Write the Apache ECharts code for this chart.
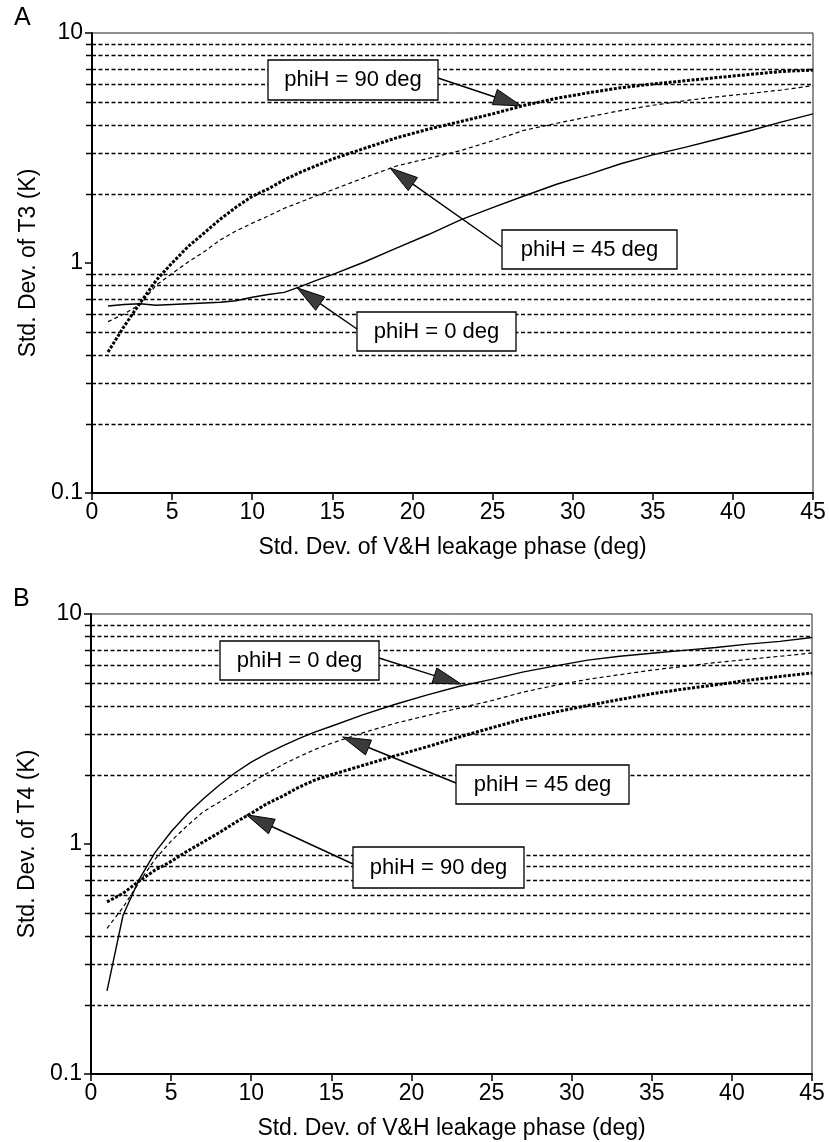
<!DOCTYPE html>
<html>
<head>
<meta charset="utf-8">
<script src="https://cdn.jsdelivr.net/npm/echarts@6.0.0/dist/echarts.min.js"></script>
<style>
  html, body { margin: 0; padding: 0; background: #fff; }
  #chart { width: 829px; height: 1142px; }
</style>
</head>
<body>
<div id="chart"></div>
<script>
// x positions of the samples (deg)
var xVals = [1, 2, 3, 4, 5, 6, 7, 8, 9, 10, 11, 12, 13, 14, 15,
  17, 19, 21, 23, 25, 27, 29, 31, 33, 35, 37, 39, 41, 43, 45];

// panel A: std dev of T3 (K)
var a0 = [0.65, 0.66, 0.665, 0.655, 0.66, 0.665, 0.67, 0.675, 0.685, 0.71, 0.73, 0.745, 0.79, 0.84, 0.89,
  1.01, 1.16, 1.33, 1.54, 1.74, 1.96, 2.2, 2.43, 2.7, 2.95, 3.18, 3.45, 3.75, 4.1, 4.45];
var a45 = [0.556, 0.6, 0.66, 0.8, 0.9, 1.01, 1.12, 1.26, 1.38, 1.49, 1.6, 1.73, 1.84, 1.96, 2.08,
  2.35, 2.64, 2.85, 3.08, 3.4, 3.78, 4.05, 4.32, 4.6, 4.85, 5.08, 5.28, 5.45, 5.65, 5.9];
var a90 = [0.41, 0.53, 0.67, 0.84, 1.0, 1.18, 1.35, 1.55, 1.75, 1.95, 2.1, 2.3, 2.48, 2.65, 2.83,
  3.15, 3.5, 3.82, 4.12, 4.45, 4.85, 5.2, 5.5, 5.78, 6.0, 6.2, 6.4, 6.6, 6.8, 6.9];

// panel B: std dev of T4 (K)
var b0 = [0.23, 0.49, 0.7, 0.92, 1.13, 1.35, 1.57, 1.8, 2.04, 2.27, 2.48, 2.68, 2.88, 3.07, 3.25,
  3.65, 4.05, 4.45, 4.85, 5.2, 5.6, 5.95, 6.3, 6.55, 6.75, 6.95, 7.15, 7.4, 7.6, 7.9];
var b45 = [0.43, 0.53, 0.68, 0.86, 1.03, 1.2, 1.38, 1.52, 1.68, 1.85, 2.03, 2.22, 2.4, 2.58, 2.74,
  3.05, 3.35, 3.62, 3.9, 4.2, 4.58, 4.9, 5.2, 5.45, 5.7, 5.92, 6.15, 6.35, 6.55, 6.77];
var b90 = [0.56, 0.61, 0.69, 0.77, 0.84, 0.93, 1.02, 1.12, 1.24, 1.36, 1.5, 1.62, 1.77, 1.9, 2.0,
  2.2, 2.42, 2.65, 2.92, 3.2, 3.5, 3.75, 4.0, 4.25, 4.5, 4.72, 4.92, 5.15, 5.35, 5.54];

// dashed horizontal grid values
var gridVals = [0.2, 0.3, 0.4, 0.5, 0.6, 0.7, 0.8, 0.9, 2, 3, 4, 5, 6, 7, 8, 9];

var yTitles = ["Std. Dev. of T3 (K)", "Std. Dev. of T4 (K)"];
var xTitle = "Std. Dev. of V&H leakage phase (deg)";
var panelLetters = ["A", "B"];

// annotation texts and the curve point each arrow points at
var noteTexts = ["phiH = 90 deg", "phiH = 45 deg", "phiH = 0 deg",
  "phiH = 0 deg", "phiH = 45 deg", "phiH = 90 deg"];
var notePanel = [0, 0, 0, 1, 1, 1];
var noteX = [26.8, 18.6, 12.8, 23.1, 15.7, 9.7];
var noteY = [4.82, 2.59, 0.78, 4.96, 2.92, 1.34];

// box layout (pixels)
var boxes = [
  { x: 268, y: 60, w: 170, h: 40, fx: 438, fy: 78 },
  { x: 502, y: 230, w: 175, h: 39, fx: 502, fy: 247 },
  { x: 357, y: 312, w: 159, h: 39, fx: 357, fy: 329 },
  { x: 220, y: 641, w: 159, h: 39, fx: 379, fy: 658 },
  { x: 456, y: 765, w: 173, h: 39, fx: 456, fy: 783 },
  { x: 353, y: 847, w: 171, h: 41, fx: 353, fy: 864 }
];

var font = "'Liberation Sans', Arial, Helvetica, sans-serif";

function pairs(ys) {
  return xVals.map(function(x, i) { return [x, ys[i]]; });
}

function makeX(i) {
  return {
    type: "value", gridIndex: i, min: 0, max: 45, interval: 5,
    name: xTitle, nameLocation: "middle", nameGap: 43,
    nameTextStyle: { fontSize: 23, color: "#000", fontFamily: font },
    axisLine: { show: true, onZero: false, lineStyle: { color: "#000", width: 2 } },
    axisTick: { show: true, length: 7, lineStyle: { color: "#000", width: 1.5 } },
    axisLabel: { fontSize: 23, color: "#000", margin: 8, fontFamily: font },
    splitLine: { show: false }
  };
}

function makeY(i) {
  return {
    type: "log", logBase: 10, gridIndex: i, min: 0.1, max: 10, splitNumber: 2,
    name: yTitles[i], nameLocation: "middle", nameGap: 52, nameRotate: 90,
    nameTextStyle: { fontSize: 23, color: "#000", fontFamily: font },
    axisLine: { show: true, onZero: false, lineStyle: { color: "#000", width: 2 } },
    axisTick: { show: true, length: 7, lineStyle: { color: "#000", width: 1.5 } },
    axisLabel: {
      fontSize: 23, color: "#000", margin: 9, fontFamily: font,
      formatter: function(v) { return String(+v.toPrecision(3)); }
    },
    splitLine: { show: false },
    minorTick: { show: false },
    minorSplitLine: { show: false }
  };
}

function gridSeries(i) {
  return {
    type: "custom", xAxisIndex: i, yAxisIndex: i, silent: true, z: 1,
    data: gridVals.map(function(v) { return [0, v]; }),
    renderItem: function(params, api) {
      var p0 = api.coord([0, api.value(1)]);
      var p1 = api.coord([45, api.value(1)]);
      var y = Math.round(p0[1]) + 0.5;
      return {
        type: "group",
        children: [
          { type: "line", shape: { x1: p0[0] - 6, y1: y, x2: p0[0], y2: y },
            style: { stroke: "#000", lineWidth: 1.5 } },
          { type: "line", shape: { x1: p0[0], y1: y, x2: p1[0], y2: y },
            style: { stroke: "#000", lineWidth: 1.5, lineDash: [4, 2.5] } }
        ]
      };
    }
  };
}

function curve(i, ys, kind) {
  var ls = { color: "#000", width: 1.4, type: "solid" };
  if (kind === "dash") ls = { color: "#000", width: 1.2, type: [4, 3] };
  if (kind === "dot") ls = { color: "#000", width: 3, type: [3, 1.6] };
  return {
    type: "line", xAxisIndex: i, yAxisIndex: i, data: pairs(ys),
    symbol: "none", showSymbol: false, lineStyle: ls, z: 3, silent: true
  };
}

var option = {
  animation: false,
  backgroundColor: "#fff",
  grid: [
    { left: 92, top: 33, width: 721, height: 460, show: true, borderColor: "#222", borderWidth: 1, backgroundColor: "transparent" },
    { left: 91, top: 614, width: 721, height: 460, show: true, borderColor: "#222", borderWidth: 1, backgroundColor: "transparent" }
  ],
  xAxis: [makeX(0), makeX(1)],
  yAxis: [makeY(0), makeY(1)],
  series: [
    gridSeries(0), gridSeries(1),
    curve(0, a0, "solid"), curve(0, a45, "dash"), curve(0, a90, "dot"),
    curve(1, b0, "solid"), curve(1, b45, "dash"), curve(1, b90, "dot")
  ]
};

var chart = echarts.init(document.getElementById("chart"));
chart.setOption(option);

// annotations: boxes with arrows pointing at curve points
var graphics = [
  { type: "text", left: 14, top: 6, style: { text: panelLetters[0], fontSize: 25, fontFamily: font, fill: "#000" } },
  { type: "text", left: 13, top: 587, style: { text: panelLetters[1], fontSize: 25, fontFamily: font, fill: "#000" } }
];

for (var k = 0; k < boxes.length; k++) {
  var b = boxes[k];
  var p = notePanel[k];
  var tip = chart.convertToPixel({ xAxisIndex: p, yAxisIndex: p }, [noteX[k], noteY[k]]);
  var dx = tip[0] - b.fx, dy = tip[1] - b.fy;
  var len = Math.sqrt(dx * dx + dy * dy);
  var ux = dx / len, uy = dy / len;
  var L = 28, W = 8;
  var bx = tip[0] - ux * L, by = tip[1] - uy * L;
  graphics.push({
    type: "line", z: 10,
    shape: { x1: b.fx, y1: b.fy, x2: bx, y2: by },
    style: { stroke: "#000", lineWidth: 1.4 }
  });
  graphics.push({
    type: "polygon", z: 11,
    shape: { points: [[tip[0], tip[1]], [bx - uy * W, by + ux * W], [bx + uy * W, by - ux * W]] },
    style: { fill: "#3a3a3a", stroke: "#000", lineWidth: 1 }
  });
  graphics.push({
    type: "rect", z: 12,
    shape: { x: b.x, y: b.y, width: b.w, height: b.h },
    style: { fill: "#fff", stroke: "#000", lineWidth: 1.3 }
  });
  graphics.push({
    type: "text", z: 13,
    x: b.x + b.w / 2, y: b.y + b.h / 2,
    style: { text: noteTexts[k], fontSize: 22, fontFamily: font, fill: "#000", align: "center", verticalAlign: "middle" }
  });
}

chart.setOption({ graphic: graphics });
</script>
</body>
</html>
